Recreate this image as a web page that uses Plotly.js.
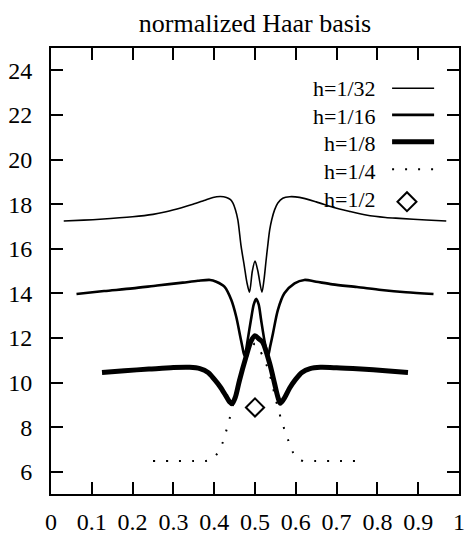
<!DOCTYPE html>
<html>
<head>
<meta charset="utf-8">
<script src="https://cdn.plot.ly/plotly-3.0.1.min.js"></script>
<style>html,body{margin:0;padding:0;background:#fff;}#chart{width:467px;height:540px;}</style>
</head>
<body>
<div id="chart"></div>
<script>
// ---- data ----
const x32 = [0.03125, 0.08, 0.12, 0.2, 0.25, 0.282, 0.32, 0.348, 0.375, 0.397, 0.415, 0.43, 0.44, 0.446, 0.452, 0.458, 0.466, 0.474, 0.48, 0.4865, 0.4935, 0.5, 0.507, 0.517, 0.522, 0.527, 0.531, 0.536, 0.541, 0.548, 0.556, 0.568, 0.585, 0.609, 0.65, 0.691, 0.73, 0.772, 0.82, 0.854, 0.92, 0.96875];
const y32 = [17.24, 17.28, 17.32, 17.43, 17.54, 17.66, 17.84, 17.99, 18.16, 18.3, 18.34, 18.3, 18.2, 18.04, 17.75, 17.29, 16.1, 15.2, 14.5, 14.05, 15.0, 15.45, 15.0, 14.05, 14.6, 15.45, 16.1, 16.84, 17.3, 17.74, 18.05, 18.26, 18.33, 18.3, 18.1, 17.86, 17.68, 17.51, 17.4, 17.36, 17.29, 17.24];

const x16 = [0.0625, 0.13, 0.2, 0.26, 0.323, 0.36, 0.39, 0.405, 0.425, 0.442, 0.454, 0.464, 0.469, 0.474, 0.4785, 0.482, 0.49, 0.497, 0.503, 0.509, 0.515, 0.523, 0.5275, 0.532, 0.537, 0.544, 0.556, 0.572, 0.597, 0.621, 0.65, 0.69, 0.75, 0.81, 0.87, 0.9375];
const y16 = [13.97, 14.1, 14.22, 14.35, 14.48, 14.56, 14.6, 14.52, 14.3, 13.7, 12.95, 12.05, 11.6, 11.2, 11.5, 11.9, 12.8, 13.5, 13.75, 13.5, 12.8, 11.9, 11.5, 11.2, 11.6, 12.2, 13.25, 14.0, 14.45, 14.6, 14.52, 14.4, 14.28, 14.15, 14.05, 13.97];

const x8 = [0.125, 0.18, 0.24, 0.30, 0.34, 0.365, 0.385, 0.40, 0.415, 0.428, 0.437, 0.444, 0.452, 0.462, 0.478, 0.49, 0.5, 0.51, 0.519, 0.536, 0.548, 0.556, 0.562, 0.572, 0.585, 0.60, 0.615, 0.635, 0.66, 0.70, 0.76, 0.82, 0.875];
const y8 = [10.45, 10.53, 10.6, 10.67, 10.68, 10.62, 10.45, 10.15, 9.8, 9.42, 9.15, 9.05, 9.35, 10.1, 11.15, 11.85, 12.1, 11.95, 11.8, 10.85, 9.95, 9.35, 9.07, 9.3, 9.75, 10.15, 10.45, 10.62, 10.68, 10.66, 10.6, 10.53, 10.45];

const x4 = [0.25, 0.30, 0.35, 0.38, 0.393, 0.405, 0.42, 0.429, 0.4375, 0.45, 0.46, 0.47, 0.48, 0.49, 0.5, 0.51, 0.52, 0.53, 0.54, 0.55, 0.5625, 0.572, 0.582, 0.593, 0.607, 0.62, 0.65, 0.70, 0.75];
const y4 = [6.48, 6.48, 6.48, 6.48, 6.55, 6.75, 7.27, 7.8, 8.36, 9.3, 10.1, 10.7, 11.15, 11.5, 11.75, 11.5, 11.15, 10.7, 10.1, 9.3, 8.45, 7.9, 7.38, 6.87, 6.55, 6.48, 6.48, 6.48, 6.48];

const x2 = [0.5];
const y2 = [8.88];

const seriesNames = ["h=1/32", "h=1/16", "h=1/8", "h=1/4", "h=1/2"];
const xTickVals = [0, 0.1, 0.2, 0.3, 0.4, 0.5, 0.6, 0.7, 0.8, 0.9, 1];
const xTickText = ["0", "0.1", "0.2", "0.3", "0.4", "0.5", "0.6", "0.7", "0.8", "0.9", "1"];
const yTickVals = [6, 8, 10, 12, 14, 16, 18, 20, 22, 24];
const yTickText = ["6", "8", "10", "12", "14", "16", "18", "20", "22", "24"];

// ---- styling ----
const FONT = "Liberation Serif";
const DOT = "2px,11px";
const traces = [
  {x: x32, y: y32, name: seriesNames[0], mode: "lines", line: {color: "#000", width: 1.6, shape: "spline", smoothing: 0.8}},
  {x: x16, y: y16, name: seriesNames[1], mode: "lines", line: {color: "#000", width: 2.6, shape: "spline", smoothing: 0.8}},
  {x: x8, y: y8, name: seriesNames[2], mode: "lines", line: {color: "#000", width: 5, shape: "spline", smoothing: 0.8}},
  {x: x4, y: y4, name: seriesNames[3], mode: "lines", line: {color: "#000", width: 2, dash: DOT, shape: "spline", smoothing: 0.8}},
  {x: x2, y: y2, name: seriesNames[4], mode: "markers", marker: {symbol: "diamond-open", size: 14, color: "#000", line: {color: "#000", width: 2}}}
];

// manual gnuplot-style key: text right-aligned, sample on the right
const keyTextY = [0.9103, 0.8475, 0.7848, 0.7242, 0.6614];
const keyY = [0.9096, 0.8500, 0.790, 0.728, 0.6554];
const keyTextX = 0.80;
const keyX0 = 0.836, keyX1 = 0.939;
const annotations = seriesNames.map((t, i) => ({
  text: t, xref: "paper", yref: "paper", x: keyTextX, y: keyTextY[i],
  xanchor: "right", yanchor: "middle", showarrow: false, borderpad: 0,
  font: {family: FONT, size: 22, color: "#000"}
}));
const shapes = [
  {type: "line", xref: "paper", yref: "paper", x0: keyX0, x1: keyX1, y0: keyY[0], y1: keyY[0], line: {color: "#000", width: 1.6}},
  {type: "line", xref: "paper", yref: "paper", x0: keyX0, x1: keyX1, y0: keyY[1], y1: keyY[1], line: {color: "#000", width: 2.6}},
  {type: "line", xref: "paper", yref: "paper", x0: keyX0, x1: keyX1, y0: keyY[2], y1: keyY[2], line: {color: "#000", width: 5}},
  {type: "line", xref: "paper", yref: "paper", x0: keyX0, x1: keyX1, y0: keyY[3], y1: keyY[3], line: {color: "#000", width: 2, dash: DOT}}
];
// diamond key sample
(function () {
  const cx = 0.8725, cy = keyY[4], dx = 9.5 / 408, dy = 9.5 / 446;
  shapes.push({type: "path", xref: "paper", yref: "paper",
    path: `M ${cx - dx} ${cy} L ${cx} ${cy + dy} L ${cx + dx} ${cy} L ${cx} ${cy - dy} Z`,
    line: {color: "#000", width: 2}});
})();

const axisCommon = {
  showgrid: false, zeroline: false, showline: true, mirror: "ticks",
  linecolor: "#000", linewidth: 2, ticks: "inside", ticklen: 12, tickwidth: 2, tickcolor: "#000",
  tickfont: {family: FONT, size: 24, color: "#000"}, tickmode: "array"
};

const layout = {
  width: 467, height: 540,
  margin: {l: 51, r: 8, t: 48, b: 46},
  paper_bgcolor: "#fff", plot_bgcolor: "#fff",
  showlegend: false,
  font: {family: FONT, color: "#000"},
  title: {text: "normalized Haar basis", font: {family: FONT, size: 26, color: "#000"},
          xref: "paper", x: 0.5, xanchor: "center", yref: "container", y: 1 - 23 / 540, yanchor: "middle"},
  xaxis: Object.assign({}, axisCommon, {range: [0, 1], tickvals: xTickVals, ticktext: xTickText, ticklabelstandoff: 5}),
  yaxis: Object.assign({}, axisCommon, {range: [5, 25], tickvals: yTickVals, ticktext: yTickText, ticklabelstandoff: 12}),
  annotations: annotations,
  shapes: shapes
};

Plotly.newPlot("chart", traces, layout, {staticPlot: true, displayModeBar: false});
</script>
</body>
</html>
